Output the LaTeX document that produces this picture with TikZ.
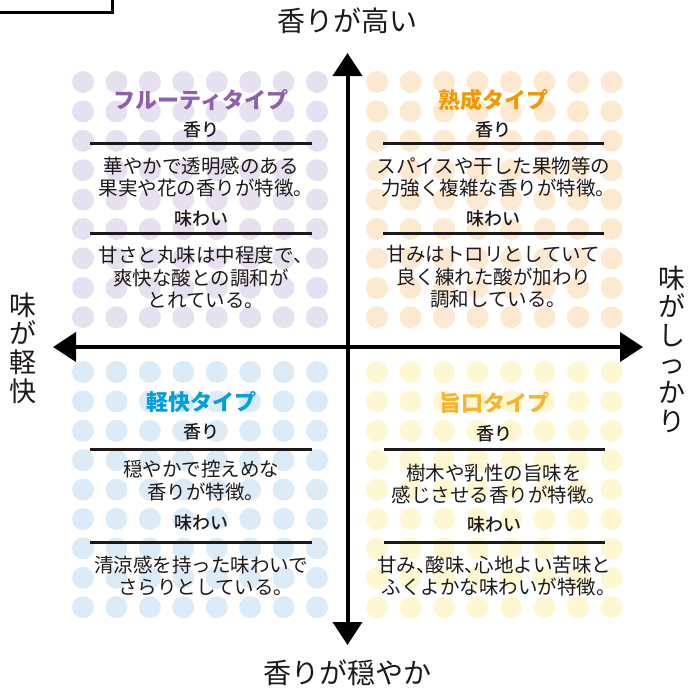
\documentclass[tikz,border=0pt]{standalone}
\usepackage{fontspec}
\setmainfont{Noto Sans CJK JP}
\newfontfamily\medfont{Noto Sans CJK JP Medium}
\usetikzlibrary{arrows.meta}
\definecolor{purpleDot}{RGB}{230,225,240}
\definecolor{purpleT}{RGB}{142,95,170}
\definecolor{orangeDot}{RGB}{253,233,207}
\definecolor{orangeT}{RGB}{243,152,0}
\definecolor{blueDot}{RGB}{220,235,248}
\definecolor{blueT}{RGB}{0,160,224}
\definecolor{yellowDot}{RGB}{255,247,209}
\definecolor{yellowT}{RGB}{248,180,45}
\definecolor{ink}{RGB}{30,25,25}
\newcommand{\hw}[1]{\makebox[0.5em][l]{#1}}
\begin{document}
\begin{tikzpicture}[x=1pt,y=-1pt,
  titletxt/.style={font=\fontsize{22}{26}\selectfont\bfseries, inner sep=0pt},
  headtxt/.style={font=\fontsize{18}{21}\selectfont\medfont, text=ink, inner sep=0pt},
  bodytxt/.style={font=\fontsize{19.5}{22.6}\selectfont, align=center, text=ink, inner sep=0pt},
  sepline/.style={line width=3pt, draw=ink},
  axislabel/.style={font=\fontsize{28}{30}\selectfont, text=ink, inner sep=0pt},
  vlabel/.style={font=\fontsize{27}{28.6}\selectfont, align=center, text=ink, inner sep=0pt},
  axisline/.style={line width=4pt, draw=black, -{Triangle[length=23pt,width=29pt]}},
  dot/.style={radius=11}
]
\useasboundingbox (0,0) rectangle (691,688);
\fill[white] (0,0) rectangle (691,688);
% dots
\foreach \i in {0,...,7}{
  \foreach \j in {0,...,8}{
    \fill[purpleDot] ({83+33.43*\i},{82+29.4*\j}) circle[dot];
    \fill[orangeDot] ({377+33.5*\i},{82+29.4*\j}) circle[dot];
    \fill[blueDot] ({83+33.43*\i},{372+29.4*\j}) circle[dot];
    \fill[yellowDot] ({377+33.5*\i},{372+29.4*\j}) circle[dot];
  }
}
% frame corner
\draw[line width=3pt] (0,12.5) -- (112.5,12.5) -- (112.5,0);
% axes
\coordinate (ctr) at (347.5,347);
\coordinate (topEnd) at (347.5,53);
\coordinate (botEnd) at (347.5,645);
\coordinate (leftEnd) at (53,347);
\coordinate (rightEnd) at (643,347);
\draw[axisline] (ctr) -- (topEnd);
\draw[axisline] (ctr) -- (botEnd);
\draw[axisline] (ctr) -- (leftEnd);
\draw[axisline] (ctr) -- (rightEnd);
\node[axislabel] (lblTop) at (347.5,21) {香りが高い};
\node[axislabel] (lblBot) at (347.5,673) {香りが穏やか};
\node[vlabel] (lblLeft) at (23,348) {味\\が\\軽\\快};
\node[vlabel] (lblRight) at (672,349) {味\\が\\し\\っ\\か\\り};
% top-left
\node[titletxt, text=purpleT] (tlT) at (201,100) {フルーティタイプ};
\node[headtxt] (tlA) at (201,130) {香り};
\draw[sepline] (90,143) -- (312,143);
\node[bodytxt] (tlB1) at (201,177) {華やかで透明感のある\\果実や花の香りが特徴\hw{。}};
\node[headtxt] (tlH) at (201,219) {味わい};
\draw[sepline] (90,233) -- (312,233);
\node[bodytxt] (tlB2) at (201,277.5) {甘さと丸味は中程度で\hw{、}\\爽快な酸との調和が\\とれている\hw{。}};
% top-right
\node[titletxt, text=orangeT] (trT) at (493.5,100) {熟成タイプ};
\node[headtxt] (trA) at (493.5,130) {香り};
\draw[sepline] (383,143) -- (604,143);
\node[bodytxt] (trB1) at (493.5,177) {スパイスや干した果物等の\\力強く複雑な香りが特徴\hw{。}};
\node[headtxt] (trH) at (493.5,219) {味わい};
\draw[sepline] (383,233) -- (604,233);
\node[bodytxt] (trB2) at (493.5,277) {甘みはトロリとしていて\\良く練れた酸が加わり\\調和している\hw{。}};
% bottom-left
\node[titletxt, text=blueT] (blT) at (201,402) {軽快タイプ};
\node[headtxt] (blA) at (201,432) {香り};
\draw[sepline] (90,449) -- (312,449);
\node[bodytxt] (blB1) at (201,480.5) {穏やかで控えめな\\香りが特徴\hw{。}};
\node[headtxt] (blH) at (201,523) {味わい};
\draw[sepline] (90,542) -- (312,542);
\node[bodytxt] (blB2) at (201,576) {清涼感を持った味わいで\\さらりとしている\hw{。}};
% bottom-right
\node[titletxt, text=yellowT] (brT) at (494,403) {旨口タイプ};
\node[headtxt] (brA) at (494,434) {香り};
\draw[sepline] (384,449) -- (605,449);
\node[bodytxt] (brB1) at (494,484) {樹木や乳性の旨味を\\感じさせる香りが特徴\hw{。}};
\node[headtxt] (brH) at (494,525) {味わい};
\draw[sepline] (384,542) -- (605,542);
\node[bodytxt] (brB2) at (494,576) {甘み\hw{、}酸味\hw{、}心地よい苦味と\\ふくよかな味わいが特徴\hw{。}};
\end{tikzpicture}
\end{document}
